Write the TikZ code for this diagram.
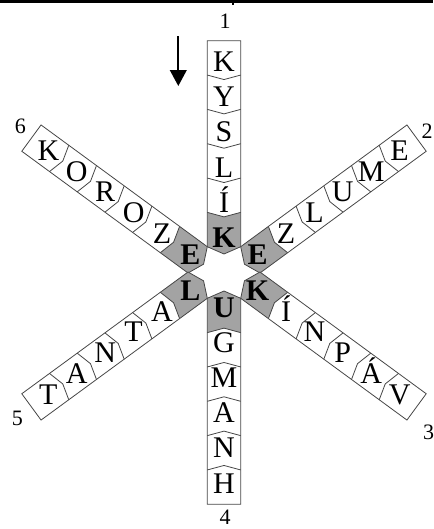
\documentclass[tikz,border=0pt]{standalone}
\usepackage{fontspec}
\setmainfont{Liberation Serif}
\usetikzlibrary{calc,arrows.meta}
\definecolor{cellgray}{RGB}{163,163,163}
\definecolor{edgecol}{RGB}{70,70,70}
\tikzset{
  armline/.style={draw=edgecol, line width=0.6pt, line join=miter},
  grayfill/.style={fill=cellgray},
  letter/.style={font=\fontsize{22.5}{22.5}\selectfont, inner sep=0pt, text height=14.7pt, text depth=0pt},
  boldletter/.style={letter, font=\fontsize{22.5}{22.5}\selectfont\bfseries},
  numlabel/.style={font=\fontsize{16.5}{16.5}\selectfont, inner sep=0pt, text height=11.2pt, text depth=0pt},
  pointer/.style={line width=1.5pt, -{Triangle[width=12.5pt,length=12pt]}},
}
% #1 name, #2 inner corner A, #3 inner corner B, #4 outward unit vector, #5 bold letter, #6 other letters
\newcommand{\armshape}[6]{%
  \coordinate (#1A) at (#2);
  \coordinate (#1B) at (#3);
  \coordinate (#1U) at (#4);
  \coordinate (#1M) at ($(#1A)!0.5!(#1B)$);
  \fill[grayfill] ($(#1A)+34.33*(#1U)$) -- ($(#1M)+29.83*(#1U)$) -- ($(#1B)+34.33*(#1U)$)
     -- (#1B) -- ($(#1M)-7.3*(#1U)$) -- (#1A) -- cycle;
  \draw[armline] ($(#1A)+206*(#1U)$) -- ($(#1B)+206*(#1U)$) -- (#1B)
     -- ($(#1M)-7.3*(#1U)$) -- (#1A) -- cycle;
  \foreach \k in {1,...,5} {
    \draw[armline] ($(#1A)+{\k*34.33}*(#1U)$) -- ($(#1M)+{\k*34.33-4.5}*(#1U)$) -- ($(#1B)+{\k*34.33}*(#1U)$);
  }
  \node[boldletter] (#1L0) at ($(#1M)+9*(#1U)$) {#5};
  \foreach \l [count=\k from 1] in {#6} {
    \node[letter] (#1L\k) at ($(#1M)+{9+35.2*\k}*(#1U)$) {\l};
  }
}
\begin{document}
\begin{tikzpicture}[x=0.75pt,y=-0.75pt]
\useasboundingbox (0,0) rectangle (433,529);
% top rule
\fill (0,0) rectangle (433,3.2);
\fill (232.2,3) rectangle (233.6,5);
% arms
\armshape{a}{207.3,246.7}{240.7,246.7}{0,-1}{K}{Í,L,S,Y,K}
\armshape{d}{207.3,298.3}{240.7,298.3}{0,1}{U}{G,M,A,N,H}
\armshape{b}{240.7,246.7}{259.97,273.0}{0.807,-0.591}{E}{Z,L,U,M,E}
\armshape{c}{240.7,298.3}{259.97,272.0}{0.807,0.591}{K}{Í,N,P,Á,V}
\armshape{f}{207.3,246.7}{188.03,273.0}{-0.807,-0.591}{E}{Z,O,R,O,K}
\armshape{e}{207.3,298.3}{188.03,272.0}{-0.807,0.591}{L}{A,T,N,A,T}
% arm numbers
\node[numlabel] (n1) at (225,21.5) {1};
\node[numlabel] (n2) at (427,131) {2};
\node[numlabel] (n3) at (428.5,432) {3};
\node[numlabel] (n4) at (225,517.5) {4};
\node[numlabel] (n5) at (17.5,418) {5};
\node[numlabel] (n6) at (20.5,126) {6};
% pointer arrow
\coordinate (ps) at (178.3,36);
\coordinate (pe) at (178.3,86);
\draw[pointer] (ps) -- (pe);
\end{tikzpicture}
\end{document}
